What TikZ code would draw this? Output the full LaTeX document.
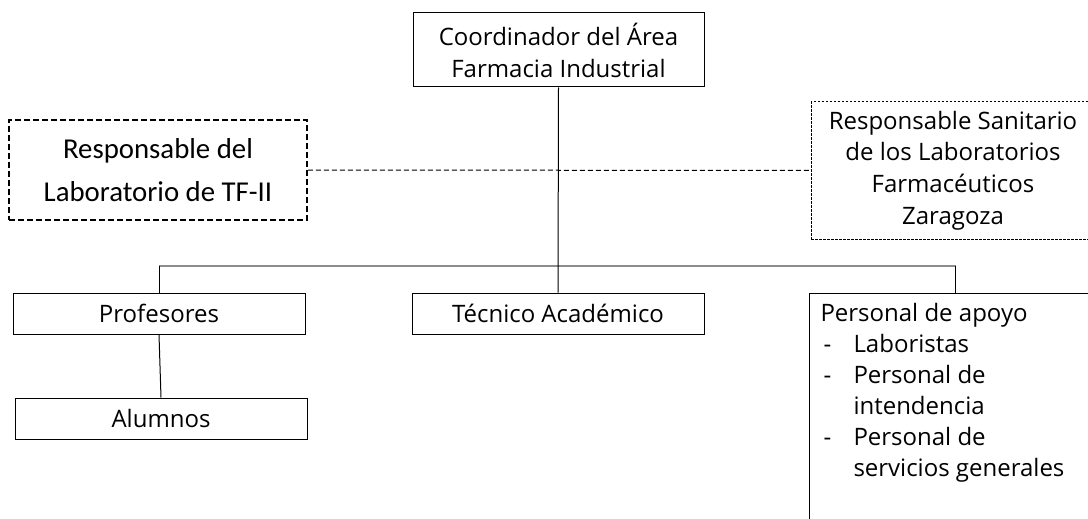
\documentclass[tikz,border=0pt]{standalone}
\usepackage{fontspec}
\setmainfont{Open Sans}
\newfontfamily\calibrifont{Carlito}

\newcommand{\orgfont}{\fontsize{24}{32}\selectfont}

\begin{document}
\begin{tikzpicture}[x=1pt, y=-1pt,
    orgbox/.style={draw, line width=1pt, inner sep=0pt, minimum width=292pt, minimum height=41pt, align=center, font=\orgfont},
    labbox/.style={draw, line width=1.8pt, dash pattern=on 6pt off 3pt, inner sep=0pt, minimum width=298pt, minimum height=100pt, align=center, font=\calibrifont\fontsize{28.8}{43}\selectfont},
    sanbox/.style={draw, line width=1pt, dash pattern=on 2.5pt off 1.5pt, inner sep=0pt, minimum width=284pt, minimum height=137pt, align=center, font=\fontsize{24}{31.7}\selectfont},
    busline/.style={draw=black!45, line width=2.5pt},
    linkline/.style={line width=1pt, dash pattern=on 5pt off 3pt}
]
    % Fix the size of the picture
    \useasboundingbox (0,0) rectangle (1088,519);
    \clip (0,0) rectangle (1088,519);

    % Define the positions of the boxes
    \coordinate (coordPos) at (558.5,50);
    \coordinate (respLabPos) at (158,170);
    \coordinate (respSanPos) at (953,170.5);
    \coordinate (profPos) at (159,313.5);
    \coordinate (tecPos) at (558,313.5);
    \coordinate (alumPos) at (161,418.5);
    \coordinate (persPos) at (809,293);
    \coordinate (busPos) at (558.5,266);

    % Draw the boxes
    \node[orgbox, minimum width=291pt, minimum height=74pt] (coord) at (coordPos) {Coordinador del Área\\Farmacia Industrial};
    \node[labbox] (respLab) at (respLabPos) {Responsable del\\Laboratorio de TF-II};
    \node[sanbox] (respSan) at (respSanPos) {Responsable Sanitario\\de los Laboratorios\\Farmacéuticos\\Zaragoza};
    \node[orgbox] (prof) at (profPos) {Profesores};
    \node[orgbox] (tec) at (tecPos) {Técnico Académico};
    \node[orgbox] (alum) at (alumPos) {Alumnos};
    \node[orgbox, anchor=north west, align=left, inner xsep=11pt, inner ysep=10pt] (pers) at (persPos)
        {\parbox[t][250pt][t]{270pt}{\fontsize{24}{31}\selectfont
        Personal de apoyo\\
        \makebox[33pt][l]{\hspace{3pt}-}Laboristas\\
        \makebox[33pt][l]{\hspace{3pt}-}Personal de\\
        \hspace*{33pt}intendencia\\
        \makebox[33pt][l]{\hspace{3pt}-}Personal de\\
        \hspace*{33pt}servicios generales}};

    % Draw the lines
    \draw[linkline] (respLab.east) -- (respSan.west);
    \draw[busline] (prof.north |- busPos) -- (pers.north |- busPos);
    \draw[line width=1pt] (coord.south) -- (tec.north);
    \draw[line width=1pt] (prof.north |- busPos) -- (prof.north);
    \draw[line width=1pt] (pers.north |- busPos) -- (pers.north);
    \draw[line width=1pt] (prof.south) -- (alum.north);
\end{tikzpicture}
\end{document}
